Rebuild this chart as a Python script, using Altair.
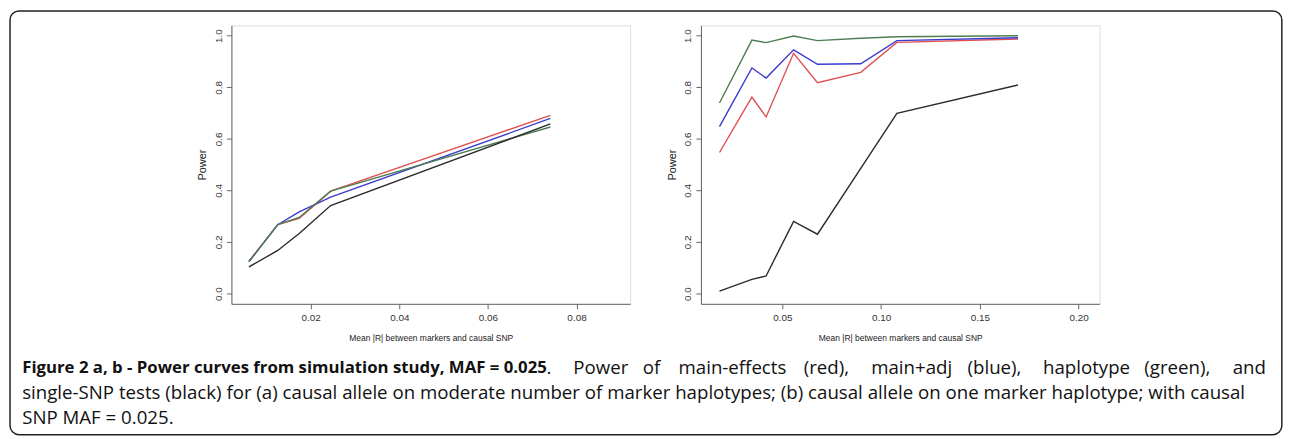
import altair as alt
import pandas as pd

# ---------------- data ----------------
SERIES = ["main-effects", "main+adj", "haplotype", "single-SNP"]
COLORS = ["#e05050", "#3a3ad0", "#4e7d52", "#2a2a2a"]

# panel (a)
A_X = [0.00605, 0.01256, 0.0174, 0.0245, 0.0741]
A_RED = [0.124, 0.267, 0.291, 0.397, 0.691]
A_BLUE = [0.124, 0.267, 0.317, 0.374, 0.679]
A_GREEN = [0.124, 0.267, 0.295, 0.397, 0.646]
A_BLACK = [0.103, 0.167, 0.233, 0.341, 0.658]
A_TICKS = [0.02, 0.04, 0.06, 0.08]

# panel (b)
B_X = [0.0182, 0.0346, 0.0418, 0.0557, 0.0678, 0.0897, 0.108, 0.1693]
B_RED = [0.547, 0.762, 0.685, 0.932, 0.818, 0.858, 0.974, 0.987]
B_BLUE = [0.647, 0.875, 0.836, 0.945, 0.889, 0.891, 0.981, 0.992]
B_GREEN = [0.739, 0.983, 0.973, 0.999, 0.981, 0.990, 0.996, 1.000]
B_BLACK = [0.009, 0.055, 0.068, 0.280, 0.230, 0.485, 0.699, 0.809]
B_TICKS = [0.05, 0.10, 0.15, 0.20]

Y_TICKS = [0.0, 0.2, 0.4, 0.6, 0.8, 1.0]
X_TITLE = "Mean |R| between markers and causal SNP"
Y_TITLE = "Power"

CAP_BOLD = ["Figure 2 a, b - Power curves from simulation study, MAF = 0.025"]
CAP_LINE1_WORDS = [".", "Power", "of", "main-effects", "(red),", "main+adj",
                   "(blue),", "haplotype", "(green),", "and"]
CAP_LINE2 = ["single-SNP tests (black) for (a) causal allele on moderate number of marker haplotypes; (b) causal allele on one marker haplotype; with causal"]
CAP_LINE3 = ["SNP MAF = 0.025."]

# layout (page pixels) of the justified first caption line
LINE1_WORD_X = [549, 576, 646, 682, 808, 876, 973, 1049, 1151, 1240]

W, H = 401.5, 280.4
OX, OY = 231.7, 23.3  # page position of panel (a) plot origin
FONT = "Liberation Sans"
CAP_FONT = "Open Sans"


def axes(xticks, fmt):
    xaxis = alt.Axis(values=xticks, format=fmt, title=X_TITLE, grid=False,
                     tickSize=5, labelPadding=4, labelFontSize=10, labelFont=FONT,
                     labelColor="#333", titleFont=FONT, titleFontSize=8.5,
                     titleFontWeight="normal", titleColor="#222", titleY=34,
                     titleBaseline="middle", domainColor="#666", tickColor="#666",
                     labelFlush=False)
    yaxis = alt.Axis(values=Y_TICKS, format=".1f", title=Y_TITLE, grid=False,
                     tickSize=5, labelPadding=5, labelFontSize=10, labelFont=FONT,
                     labelColor="#333", labelAngle=270, labelAlign="center",
                     labelBaseline="alphabetic", titleFont=FONT, titleFontSize=11,
                     titleFontWeight="normal", titleColor="#222", titleAngle=270,
                     titleX=-28.7, titleY=H / 2, titleAlign="center",
                     titleBaseline="middle", domainColor="#666", tickColor="#666",
                     labelFlush=False)
    return xaxis, yaxis


def panel(xs, ys_list, xdom, xticks, extra=()):
    xaxis, yaxis = axes(xticks, ".2f")
    layers = []
    for name, col, ys in zip(SERIES, COLORS, ys_list):
        df = pd.DataFrame({"x": xs, "y": ys, "series": name})
        layers.append(
            alt.Chart(df).mark_line(color=col, strokeWidth=1.4).encode(
                x=alt.X("x:Q", scale=alt.Scale(domain=xdom, nice=False, zero=False), axis=xaxis),
                y=alt.Y("y:Q", scale=alt.Scale(domain=[-0.04, 1.04], nice=False, zero=False), axis=yaxis),
            )
        )
    return alt.layer(*extra, *layers).properties(width=W, height=H)


one = pd.DataFrame({"k": [0]})

border = alt.Chart(one).mark_rect(filled=False, stroke="#222", strokeWidth=1.5,
                                  cornerRadius=9).encode(
    x=alt.value(8.75 - OX), x2=alt.value(1289.5 - OX),
    y=alt.value(8.75 - OY), y2=alt.value(435.5 - OY),
)


def cap(lines, px, py, bold=False, size=18.8):
    return alt.Chart(pd.DataFrame({"t": lines})).mark_text(
        align="left", baseline="middle", font=CAP_FONT, fontSize=size,
        fontWeight="bold" if bold else "normal", color="#111",
    ).encode(text="t:N", x=alt.value(px - OX), y=alt.value(py - OY))


caption = [cap(CAP_BOLD, 21, 368, bold=True, size=16.9)]
for word, wx in zip(CAP_LINE1_WORDS, LINE1_WORD_X):
    caption.append(cap([word], wx, 368))
caption += [cap(CAP_LINE2, 21, 394), cap(CAP_LINE3, 21, 419)]

pa = panel(A_X, [A_RED, A_BLUE, A_GREEN, A_BLACK], [0.0021, 0.0921], A_TICKS,
           extra=[border] + caption)
pb = panel(B_X, [B_RED, B_BLUE, B_GREEN, B_BLACK], [0.0088, 0.2106], B_TICKS)

chart = alt.hconcat(pa, pb, spacing=704 - OX - W, bounds="flush").properties(
    padding=0
).configure_view(stroke="#111", strokeWidth=1).configure(background="white")

chart.save("out.html", embed_options={"renderer": "svg", "actions": False})
